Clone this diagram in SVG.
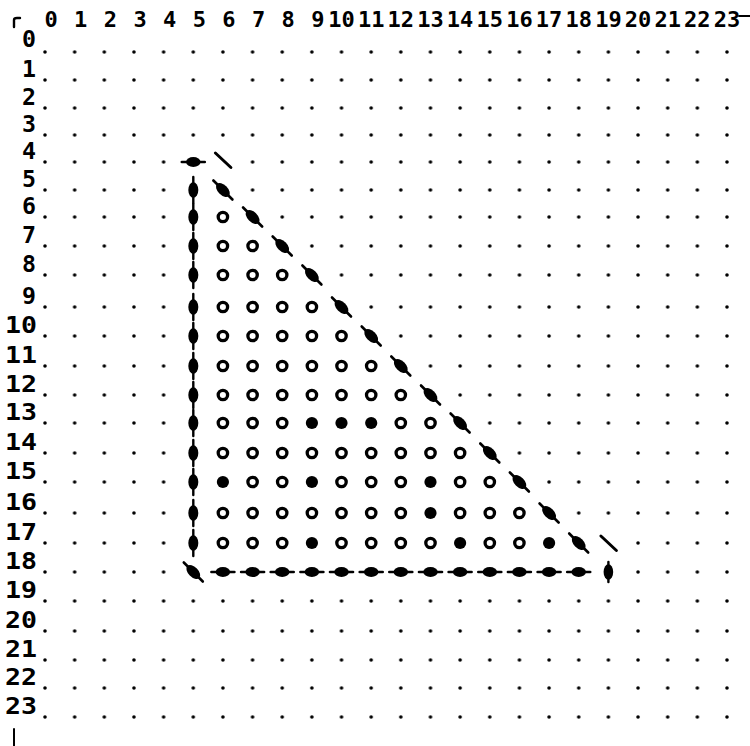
<svg xmlns="http://www.w3.org/2000/svg" xmlns:xlink="http://www.w3.org/1999/xlink" width="750" height="746" viewBox="0 0 750 746">
<style>
text{font-family:"DejaVu Sans Mono","Liberation Mono",monospace;font-weight:bold;fill:#000}
.hd{text-anchor:middle;font-size:22px}
.rl{text-anchor:end;font-size:22.5px}
.ln{stroke:#000;stroke-linecap:round;fill:none}
.dr{fill:url(#dots)}
</style>
<defs>
<pattern id="dots" patternUnits="userSpaceOnUse" x="30.174" y="0" width="29.652" height="10">
<circle cx="14.826" cy="5" r="1.8" fill="#000"/>
</pattern>
<g id="v"><line class="ln" x1="0" y1="-13" x2="0" y2="13" stroke-width="2.4"/><ellipse rx="5" ry="7.8" fill="#000"/></g>
<g id="vs"><line class="ln" x1="0" y1="-10" x2="0" y2="10" stroke-width="2.4"/><ellipse rx="4.8" ry="7.8" fill="#000"/></g>
<g id="h"><line class="ln" x1="-11.5" y1="0" x2="11.5" y2="0" stroke-width="2.6"/><ellipse rx="7.2" ry="5" fill="#000"/></g>
<g id="dg"><line class="ln" x1="-9.5" y1="-9.5" x2="9.5" y2="9.5" stroke-width="2.6"/><ellipse rx="8.4" ry="5" transform="rotate(45)" fill="#000"/></g>
<line id="tl" class="ln" x1="-7.5" y1="-7" x2="8" y2="7.5" stroke-width="3"/>
<circle id="o" r="4.7" fill="none" stroke="#000" stroke-width="3.3"/>
<circle id="f" r="6.1" fill="#000"/>
</defs>
<rect width="750" height="746" fill="#fff"/>

<g id="axes">
<path class="ln" d="M14 27 V20 Q14 18 17 18 H20" stroke-width="2.4"/>
<line class="ln" x1="739" y1="16" x2="750" y2="16" stroke-width="2"/>
<line class="ln" x1="14" y1="729" x2="14" y2="746" stroke-width="2"/>
</g>

<g id="column-labels">
<text class="hd" x="51" y="27">0</text>
<text class="hd" x="80.6" y="27">1</text>
<text class="hd" x="110.3" y="27">2</text>
<text class="hd" x="140" y="27">3</text>
<text class="hd" x="169.6" y="27">4</text>
<text class="hd" x="199.3" y="27">5</text>
<text class="hd" x="228.9" y="27">6</text>
<text class="hd" x="258.6" y="27">7</text>
<text class="hd" x="288.2" y="27">8</text>
<text class="hd" x="317.9" y="27">9</text>
<text class="hd" x="341.5" y="27">10</text>
<text class="hd" x="371.2" y="27">11</text>
<text class="hd" x="400.8" y="27">12</text>
<text class="hd" x="430.5" y="27">13</text>
<text class="hd" x="460.1" y="27">14</text>
<text class="hd" x="489.8" y="27">15</text>
<text class="hd" x="519.4" y="27">16</text>
<text class="hd" x="549.1" y="27">17</text>
<text class="hd" x="578.7" y="27">18</text>
<text class="hd" x="608.4" y="27">19</text>
<text class="hd" x="638" y="27">20</text>
<text class="hd" x="667.7" y="27">21</text>
<text class="hd" x="697.3" y="27">22</text>
<text class="hd" x="727" y="27">23</text>
</g>

<g id="row-labels">
<text class="rl" x="36" y="47" textLength="14" lengthAdjust="spacingAndGlyphs">0</text>
<text class="rl" x="36" y="77" textLength="14" lengthAdjust="spacingAndGlyphs">1</text>
<text class="rl" x="36" y="105" textLength="14" lengthAdjust="spacingAndGlyphs">2</text>
<text class="rl" x="36" y="132" textLength="14" lengthAdjust="spacingAndGlyphs">3</text>
<text class="rl" x="36" y="159" textLength="14" lengthAdjust="spacingAndGlyphs">4</text>
<text class="rl" x="36" y="187" textLength="14" lengthAdjust="spacingAndGlyphs">5</text>
<text class="rl" x="36" y="214" textLength="14" lengthAdjust="spacingAndGlyphs">6</text>
<text class="rl" x="36" y="243" textLength="14" lengthAdjust="spacingAndGlyphs">7</text>
<text class="rl" x="36" y="272" textLength="14" lengthAdjust="spacingAndGlyphs">8</text>
<text class="rl" x="36" y="304" textLength="14" lengthAdjust="spacingAndGlyphs">9</text>
<text class="rl" x="37" y="333" textLength="32" lengthAdjust="spacingAndGlyphs">10</text>
<text class="rl" x="37" y="363" textLength="32" lengthAdjust="spacingAndGlyphs">11</text>
<text class="rl" x="37" y="392" textLength="32" lengthAdjust="spacingAndGlyphs">12</text>
<text class="rl" x="37" y="420" textLength="32" lengthAdjust="spacingAndGlyphs">13</text>
<text class="rl" x="37" y="450" textLength="32" lengthAdjust="spacingAndGlyphs">14</text>
<text class="rl" x="37" y="479" textLength="32" lengthAdjust="spacingAndGlyphs">15</text>
<text class="rl" x="37" y="510" textLength="32" lengthAdjust="spacingAndGlyphs">16</text>
<text class="rl" x="37" y="540" textLength="32" lengthAdjust="spacingAndGlyphs">17</text>
<text class="rl" x="37" y="569" textLength="32" lengthAdjust="spacingAndGlyphs">18</text>
<text class="rl" x="37" y="598" textLength="32" lengthAdjust="spacingAndGlyphs">19</text>
<text class="rl" x="37" y="628" textLength="32" lengthAdjust="spacingAndGlyphs">20</text>
<text class="rl" x="37" y="657" textLength="32" lengthAdjust="spacingAndGlyphs">21</text>
<text class="rl" x="37" y="685" textLength="32" lengthAdjust="spacingAndGlyphs">22</text>
<text class="rl" x="37" y="714" textLength="32" lengthAdjust="spacingAndGlyphs">23</text>
</g>

<g id="grid-dots">
<rect class="dr" transform="translate(0,47)" x="30.174" width="711.65" height="10"/>
<rect class="dr" transform="translate(0,75)" x="30.174" width="711.65" height="10"/>
<rect class="dr" transform="translate(0,103)" x="30.174" width="711.65" height="10"/>
<rect class="dr" transform="translate(0,130)" x="30.174" width="711.65" height="10"/>
<rect class="dr" transform="translate(0,157)" x="30.174" width="148.26" height="10"/>
<rect class="dr" transform="translate(0,157)" x="237.738" width="504.08" height="10"/>
<rect class="dr" transform="translate(0,185)" x="30.174" width="148.26" height="10"/>
<rect class="dr" transform="translate(0,185)" x="237.738" width="504.08" height="10"/>
<rect class="dr" transform="translate(0,212)" x="30.174" width="148.26" height="10"/>
<rect class="dr" transform="translate(0,212)" x="267.39" width="474.43" height="10"/>
<rect class="dr" transform="translate(0,241)" x="30.174" width="148.26" height="10"/>
<rect class="dr" transform="translate(0,241)" x="297.042" width="444.78" height="10"/>
<rect class="dr" transform="translate(0,270)" x="30.174" width="148.26" height="10"/>
<rect class="dr" transform="translate(0,270)" x="326.694" width="415.13" height="10"/>
<rect class="dr" transform="translate(0,302)" x="30.174" width="148.26" height="10"/>
<rect class="dr" transform="translate(0,302)" x="356.346" width="385.47" height="10"/>
<rect class="dr" transform="translate(0,331)" x="30.174" width="148.26" height="10"/>
<rect class="dr" transform="translate(0,331)" x="385.998" width="355.82" height="10"/>
<rect class="dr" transform="translate(0,361)" x="30.174" width="148.26" height="10"/>
<rect class="dr" transform="translate(0,361)" x="415.65" width="326.17" height="10"/>
<rect class="dr" transform="translate(0,390)" x="30.174" width="148.26" height="10"/>
<rect class="dr" transform="translate(0,390)" x="445.302" width="296.52" height="10"/>
<rect class="dr" transform="translate(0,418)" x="30.174" width="148.26" height="10"/>
<rect class="dr" transform="translate(0,418)" x="474.954" width="266.87" height="10"/>
<rect class="dr" transform="translate(0,448)" x="30.174" width="148.26" height="10"/>
<rect class="dr" transform="translate(0,448)" x="504.606" width="237.22" height="10"/>
<rect class="dr" transform="translate(0,477)" x="30.174" width="148.26" height="10"/>
<rect class="dr" transform="translate(0,477)" x="534.258" width="207.56" height="10"/>
<rect class="dr" transform="translate(0,508)" x="30.174" width="148.26" height="10"/>
<rect class="dr" transform="translate(0,508)" x="563.91" width="177.91" height="10"/>
<rect class="dr" transform="translate(0,538)" x="30.174" width="148.26" height="10"/>
<rect class="dr" transform="translate(0,538)" x="623.214" width="118.61" height="10"/>
<rect class="dr" transform="translate(0,567)" x="30.174" width="148.26" height="10"/>
<rect class="dr" transform="translate(0,567)" x="623.214" width="118.61" height="10"/>
<rect class="dr" transform="translate(0,596)" x="30.174" width="711.65" height="10"/>
<rect class="dr" transform="translate(0,626)" x="30.174" width="711.65" height="10"/>
<rect class="dr" transform="translate(0,655)" x="30.174" width="711.65" height="10"/>
<rect class="dr" transform="translate(0,683)" x="30.174" width="711.65" height="10"/>
<rect class="dr" transform="translate(0,712)" x="30.174" width="711.65" height="10"/>
</g>

<g id="left-edge">
<use xlink:href="#h" x="193.3" y="162"/>
<use xlink:href="#v" x="193.3" y="190"/>
<use xlink:href="#v" x="193.3" y="217"/>
<use xlink:href="#v" x="193.3" y="246"/>
<use xlink:href="#v" x="193.3" y="275"/>
<use xlink:href="#v" x="193.3" y="307"/>
<use xlink:href="#v" x="193.3" y="336"/>
<use xlink:href="#v" x="193.3" y="366"/>
<use xlink:href="#v" x="193.3" y="395"/>
<use xlink:href="#v" x="193.3" y="423"/>
<use xlink:href="#v" x="193.3" y="453"/>
<use xlink:href="#v" x="193.3" y="482"/>
<use xlink:href="#v" x="193.3" y="513"/>
<use xlink:href="#v" x="193.3" y="543"/>
</g>

<g id="bottom-edge">
<use xlink:href="#dg" x="193.3" y="572"/>
<use xlink:href="#h" x="222.9" y="572"/>
<use xlink:href="#h" x="252.6" y="572"/>
<use xlink:href="#h" x="282.2" y="572"/>
<use xlink:href="#h" x="311.9" y="572"/>
<use xlink:href="#h" x="341.5" y="572"/>
<use xlink:href="#h" x="371.2" y="572"/>
<use xlink:href="#h" x="400.8" y="572"/>
<use xlink:href="#h" x="430.5" y="572"/>
<use xlink:href="#h" x="460.1" y="572"/>
<use xlink:href="#h" x="489.8" y="572"/>
<use xlink:href="#h" x="519.4" y="572"/>
<use xlink:href="#h" x="549.1" y="572"/>
<use xlink:href="#h" x="578.7" y="572"/>
<use xlink:href="#vs" x="608.4" y="572"/>
</g>

<g id="hypotenuse">
<use xlink:href="#tl" x="222.9" y="160"/>
<use xlink:href="#dg" x="222.9" y="190"/>
<use xlink:href="#dg" x="252.6" y="217"/>
<use xlink:href="#dg" x="282.2" y="246"/>
<use xlink:href="#dg" x="311.9" y="275"/>
<use xlink:href="#dg" x="341.5" y="307"/>
<use xlink:href="#dg" x="371.2" y="336"/>
<use xlink:href="#dg" x="400.8" y="366"/>
<use xlink:href="#dg" x="430.5" y="395"/>
<use xlink:href="#dg" x="460.1" y="423"/>
<use xlink:href="#dg" x="489.8" y="453"/>
<use xlink:href="#dg" x="519.4" y="482"/>
<use xlink:href="#dg" x="549.1" y="513"/>
<use xlink:href="#dg" x="578.7" y="543"/>
<use xlink:href="#tl" x="608.4" y="543"/>
</g>

<g id="interior">
<use xlink:href="#o" x="222.9" y="217"/>

<use xlink:href="#o" x="222.9" y="246"/><use xlink:href="#o" x="252.6" y="246"/>

<use xlink:href="#o" x="222.9" y="275"/><use xlink:href="#o" x="252.6" y="275"/><use xlink:href="#o" x="282.2" y="275"/>

<use xlink:href="#o" x="222.9" y="307"/><use xlink:href="#o" x="252.6" y="307"/><use xlink:href="#o" x="282.2" y="307"/><use xlink:href="#o" x="311.9" y="307"/>

<use xlink:href="#o" x="222.9" y="336"/><use xlink:href="#o" x="252.6" y="336"/><use xlink:href="#o" x="282.2" y="336"/><use xlink:href="#o" x="311.9" y="336"/><use xlink:href="#o" x="341.5" y="336"/>

<use xlink:href="#o" x="222.9" y="366"/><use xlink:href="#o" x="252.6" y="366"/><use xlink:href="#o" x="282.2" y="366"/><use xlink:href="#o" x="311.9" y="366"/><use xlink:href="#o" x="341.5" y="366"/><use xlink:href="#o" x="371.2" y="366"/>

<use xlink:href="#o" x="222.9" y="395"/><use xlink:href="#o" x="252.6" y="395"/><use xlink:href="#o" x="282.2" y="395"/><use xlink:href="#o" x="311.9" y="395"/><use xlink:href="#o" x="341.5" y="395"/><use xlink:href="#o" x="371.2" y="395"/><use xlink:href="#o" x="400.8" y="395"/>

<use xlink:href="#o" x="222.9" y="423"/><use xlink:href="#o" x="252.6" y="423"/><use xlink:href="#o" x="282.2" y="423"/><use xlink:href="#f" x="311.9" y="423"/><use xlink:href="#f" x="341.5" y="423"/><use xlink:href="#f" x="371.2" y="423"/><use xlink:href="#o" x="400.8" y="423"/><use xlink:href="#o" x="430.5" y="423"/>

<use xlink:href="#o" x="222.9" y="453"/><use xlink:href="#o" x="252.6" y="453"/><use xlink:href="#o" x="282.2" y="453"/><use xlink:href="#o" x="311.9" y="453"/><use xlink:href="#o" x="341.5" y="453"/><use xlink:href="#o" x="371.2" y="453"/><use xlink:href="#o" x="400.8" y="453"/><use xlink:href="#o" x="430.5" y="453"/><use xlink:href="#o" x="460.1" y="453"/>

<use xlink:href="#f" x="222.9" y="482"/><use xlink:href="#o" x="252.6" y="482"/><use xlink:href="#o" x="282.2" y="482"/><use xlink:href="#f" x="311.9" y="482"/><use xlink:href="#o" x="341.5" y="482"/><use xlink:href="#o" x="371.2" y="482"/><use xlink:href="#o" x="400.8" y="482"/><use xlink:href="#f" x="430.5" y="482"/><use xlink:href="#o" x="460.1" y="482"/><use xlink:href="#o" x="489.8" y="482"/>

<use xlink:href="#o" x="222.9" y="513"/><use xlink:href="#o" x="252.6" y="513"/><use xlink:href="#o" x="282.2" y="513"/><use xlink:href="#o" x="311.9" y="513"/><use xlink:href="#o" x="341.5" y="513"/><use xlink:href="#o" x="371.2" y="513"/><use xlink:href="#o" x="400.8" y="513"/><use xlink:href="#f" x="430.5" y="513"/><use xlink:href="#o" x="460.1" y="513"/><use xlink:href="#o" x="489.8" y="513"/><use xlink:href="#o" x="519.4" y="513"/>

<use xlink:href="#o" x="222.9" y="543"/><use xlink:href="#o" x="252.6" y="543"/><use xlink:href="#o" x="282.2" y="543"/><use xlink:href="#f" x="311.9" y="543"/><use xlink:href="#o" x="341.5" y="543"/><use xlink:href="#o" x="371.2" y="543"/><use xlink:href="#o" x="400.8" y="543"/><use xlink:href="#o" x="430.5" y="543"/><use xlink:href="#f" x="460.1" y="543"/><use xlink:href="#o" x="489.8" y="543"/><use xlink:href="#o" x="519.4" y="543"/><use xlink:href="#f" x="549.1" y="543"/>
</g>
</svg>
